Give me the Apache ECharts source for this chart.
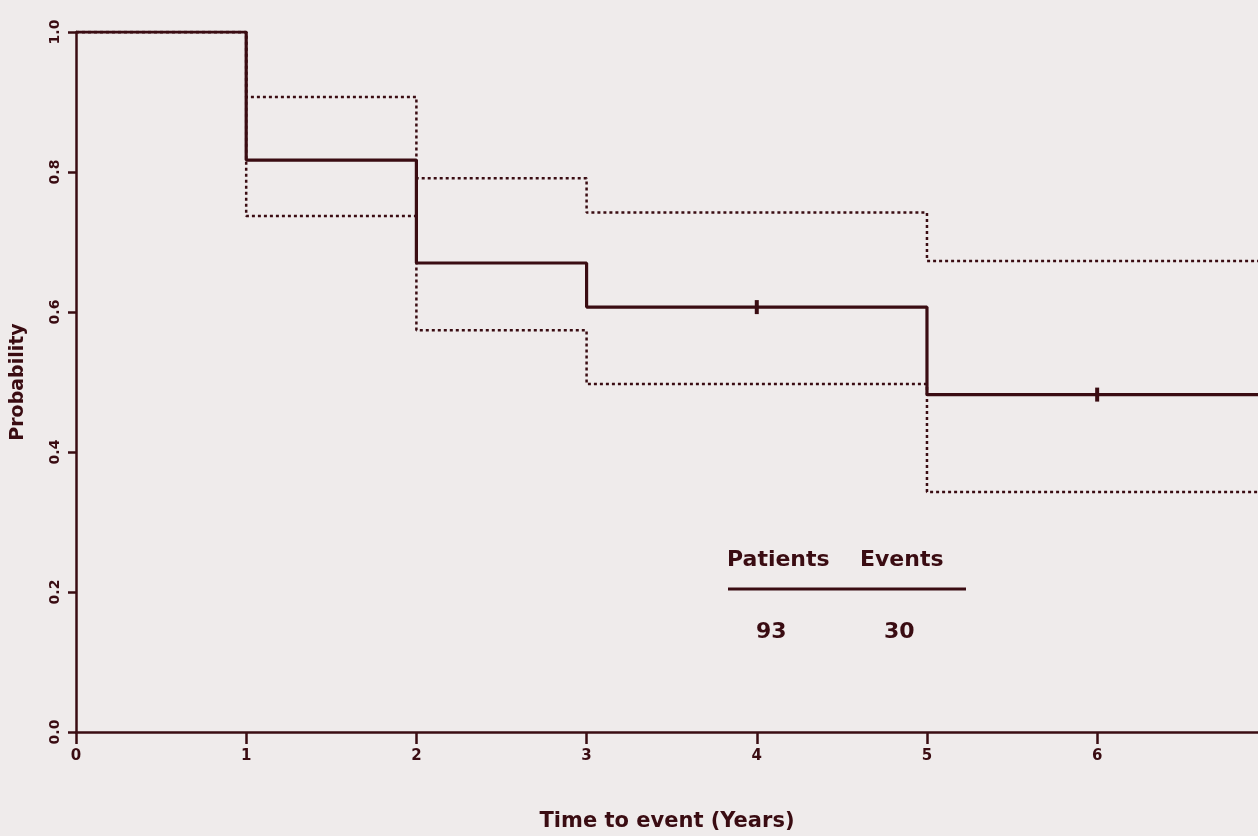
<!DOCTYPE html>
<html>
<head>
<meta charset="utf-8">
<script src="https://cdn.jsdelivr.net/npm/echarts@6/dist/echarts.min.js"></script>
<style>
html,body{margin:0;padding:0;background:#efebeb;}
#chart{width:1258px;height:836px;}
</style>
</head>
<body>
<div id="chart"></div>
<script>
// Kaplan-Meier estimate (step points: time, probability)
const survivalTimes = [0, 1, 2, 3, 5, 6.95];
const survivalProb  = [1.0, 0.817, 0.670, 0.607, 0.482, 0.482];
// 95% confidence band
const upperCI = [1.0, 0.907, 0.791, 0.742, 0.673, 0.673];
const lowerCI = [1.0, 0.737, 0.574, 0.497, 0.343, 0.343];
// censoring marks
const censorTimes = [4, 6];
const censorProb  = [0.607, 0.482];
// table annotation
const tableHeaders = ['Patients', 'Events'];
const tableValues  = ['93', '30'];
const xTickLabels = ['0','1','2','3','4','5','6'];
const yTickLabels = ['0.0','0.2','0.4','0.6','0.8','1.0'];

const ink = '#3a0c12';
const fam = '"DejaVu Sans"';
const pairs = (xs, ys) => xs.map((x, i) => [x, ys[i]]);

const chart = echarts.init(document.getElementById('chart'));
chart.setOption({
  backgroundColor: '#efebeb',
  animation: false,
  grid: {left: 76, right: 0, top: 32, bottom: 104, containLabel: false, outerBoundsMode: 'none'},
  xAxis: {
    type: 'value', min: 0, max: 6.945, interval: 1,
    name: 'Time to event (Years)', nameLocation: 'middle', nameGap: 79,
    nameTextStyle: {fontFamily: 'DejaVu Sans', fontWeight: 'bold', fontSize: 21, color: ink},
    axisLine: {lineStyle: {color: ink, width: 2.5}},
    axisTick: {length: 12, lineStyle: {color: ink, width: 2.5}},
    axisLabel: {
      formatter: v => (Number.isInteger(v) && v <= 6) ? xTickLabels[v] : '',
      showMaxLabel: false, margin: 17,
      fontFamily: 'DejaVu Sans', fontWeight: 'bold', fontSize: 15, color: ink
    },
    splitLine: {show: false}
  },
  yAxis: {
    type: 'value', min: 0, max: 1, interval: 0.2,
    name: 'Probability', nameLocation: 'middle', nameGap: 48, nameRotate: 90,
    nameTextStyle: {fontFamily: 'DejaVu Sans', fontWeight: 'bold', fontSize: 19, color: ink},
    axisLine: {show: true, lineStyle: {color: ink, width: 2.5}},
    axisTick: {show: true, length: 8, lineStyle: {color: ink, width: 2.5}},
    axisLabel: {
      rotate: 90, margin: 14,
      formatter: v => yTickLabels[Math.round(v * 5)],
      fontFamily: 'DejaVu Sans', fontWeight: 'bold', fontSize: 14, color: ink
    },
    splitLine: {show: false}
  },
  series: [
    {type: 'line', step: 'end', data: pairs(survivalTimes, upperCI), symbol: 'none',
     lineStyle: {color: ink, width: 2.5, type: [3, 3]}, z: 2},
    {type: 'line', step: 'end', data: pairs(survivalTimes, lowerCI), symbol: 'none',
     lineStyle: {color: ink, width: 2.5, type: [3, 3]}, z: 2},
    {type: 'line', step: 'end', data: pairs(survivalTimes, survivalProb), symbol: 'none',
     lineStyle: {color: ink, width: 3.2}, z: 3},
    {type: 'scatter', data: pairs(censorTimes, censorProb), symbol: 'rect', symbolSize: [4, 14],
     itemStyle: {color: ink, opacity: 1}, z: 4}
  ],
  graphic: [
    {type: 'text', left: 727, top: 549, style: {text: tableHeaders[0], font: 'bold 22px ' + fam, fill: ink}},
    {type: 'text', left: 860, top: 549, style: {text: tableHeaders[1], font: 'bold 22px ' + fam, fill: ink}},
    {type: 'line', shape: {x1: 728, y1: 589, x2: 966, y2: 589}, style: {stroke: ink, lineWidth: 3}},
    {type: 'text', left: 756, top: 621, style: {text: tableValues[0], font: 'bold 22px ' + fam, fill: ink}},
    {type: 'text', left: 884, top: 621, style: {text: tableValues[1], font: 'bold 22px ' + fam, fill: ink}}
  ]
});
</script>
</body>
</html>
